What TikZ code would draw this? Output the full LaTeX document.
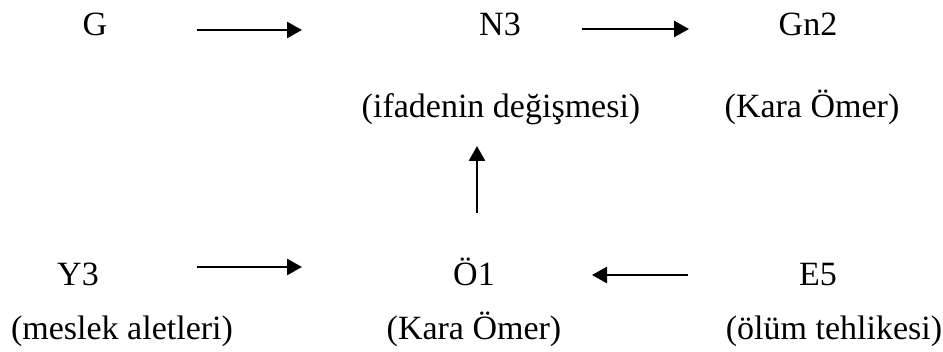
\documentclass[tikz,border=0pt]{standalone}
\usepackage{fontspec}
\setmainfont{Liberation Serif}
\usetikzlibrary{arrows.meta}
\begin{document}
\begin{tikzpicture}[x=1pt,y=-1pt,
  lbl/.style={inner sep=0pt,anchor=base,font=\fontsize{34}{38}\selectfont},
  arr/.style={line width=2.6pt,-{Triangle[length=15pt,width=16pt]}}]
\useasboundingbox (0,0) rectangle (943,352);
\node[lbl] (G) at (95,36) {G};
\node[lbl] (N3) at (500,36) {N3};
\node[lbl] (Gn2) at (808,36) {Gn2};
\node[lbl] (N3d) at (501,118) {(ifadenin değişmesi)};
\node[lbl] (Gn2d) at (812,118) {(Kara Ömer)};
\node[lbl] (Y3) at (78,286) {Y3};
\node[lbl] (O1) at (474,286) {Ö1};
\node[lbl] (E5) at (818,286) {E5};
\node[lbl] (Y3d) at (122,340) {(meslek aletleri)};
\node[lbl] (O1d) at (474,340) {(Kara Ömer)};
\node[lbl] (E5d) at (834,340) {(ölüm tehlikesi)};
\coordinate (a1s) at (197,30); \coordinate (a1e) at (302,30);
\coordinate (a2s) at (582,29); \coordinate (a2e) at (689,29);
\coordinate (a3s) at (477,213); \coordinate (a3e) at (477,146);
\coordinate (a4s) at (197,267); \coordinate (a4e) at (302,267);
\coordinate (a5s) at (688,275); \coordinate (a5e) at (592,275);
\draw[arr] (a1s) -- (a1e);
\draw[arr] (a2s) -- (a2e);
\draw[arr] (a3s) -- (a3e);
\draw[arr] (a4s) -- (a4e);
\draw[arr] (a5s) -- (a5e);
\end{tikzpicture}
\end{document}
